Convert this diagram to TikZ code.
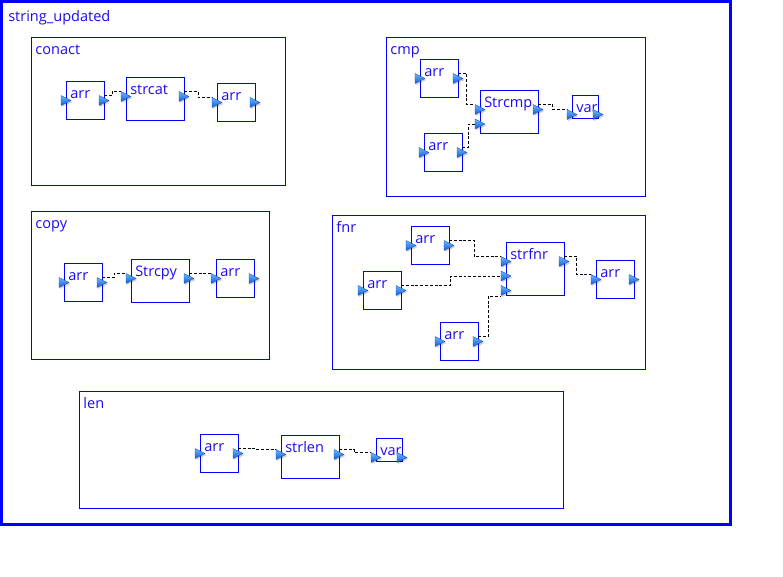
\documentclass[tikz,border=0pt]{standalone}
\usepackage{fontspec}
\setmainfont{Open Sans}
\usetikzlibrary{fit,calc}
\definecolor{boxblue}{RGB}{0,0,255}
\definecolor{txtblue}{RGB}{30,10,240}
\definecolor{portlight}{RGB}{105,185,255}
\definecolor{portdark}{RGB}{18,92,215}
\newcommand\blk[6]{%
  \coordinate (#1-nw) at (#2,#3);
  \coordinate (#1-se) at (#4,#5);
  \node[blockbox, fit=(#1-nw)(#1-se)] (#1) {};
  \node[lbl] (#1-t) at ([shift={(4,18)}]#1-nw) {#6};}
\newcommand\grp[6]{%
  \coordinate (#1-nw) at (#2,#3);
  \coordinate (#1-se) at (#4,#5);
  \node[blockbox, fit=(#1-nw)(#1-se)] (#1) {};
  \node[lbl] (#1-t) at ([shift={(3.7,16.8)}]#1-nw) {#6};}
\newcommand\prt[2]{%
  \fill[black,opacity=0.18] (#1-4,#2-3.5) -- (#1+6.5,#2+1.5) -- (#1-4,#2+6.5) -- cycle;
  \shade[top color=portlight, bottom color=portdark, draw=portdark!85!black, line width=0.2pt]
    (#1-5,#2-5) -- (#1+5,#2) -- (#1-5,#2+5) -- cycle;}
\begin{document}
\begin{tikzpicture}[x=0.75pt,y=-0.75pt,
  blockbox/.style={draw=boxblue,line width=0.65pt,inner sep=0pt,outer sep=0pt},
  lbl/.style={anchor=base west,inner sep=0pt,text=txtblue,font=\fontsize{10.9}{12}\selectfont},
  wire/.style={draw=black,line width=0.7pt,dash pattern=on 2.2pt off 1.4pt}]
\useasboundingbox (0,0) rectangle (783,577);
% outer frame
\coordinate (top-nw) at (1.5,1.5);
\coordinate (top-se) at (730.5,524.5);
\node[draw=boxblue,line width=2.3pt,inner sep=0pt,outer sep=0pt,fit=(top-nw)(top-se)] (top) {};
\node[lbl] (top-t) at (8,22) {string\_updated};
% groups
\grp{conact}{31.5}{37.5}{285.5}{185}{conact}
\grp{cmp}{386.5}{37.5}{645.5}{196.5}{cmp}
\grp{copy}{31.5}{211.5}{269.5}{359}{copy}
\grp{fnr}{332.5}{215.5}{645.5}{369}{fnr}
\grp{len}{79.5}{391.5}{563.5}{508}{len}
% conact blocks
\blk{ca1}{66}{81}{104}{119}{arr}
\blk{cs}{126}{77}{184}{120}{strcat}
\blk{ca2}{217}{83}{255}{121}{arr}
% cmp blocks
\blk{ma1}{420}{59}{458}{97}{arr}
\blk{ma2}{424}{133}{462}{171}{arr}
\blk{ms}{480}{90}{538}{133}{Strcmp}
\blk{mv}{572}{95}{598}{118}{var}
% copy blocks
\blk{pa1}{64}{263}{102}{301}{arr}
\blk{ps}{131}{259}{189}{302}{Strcpy}
\blk{pa2}{216}{259}{254}{297}{arr}
% fnr blocks
\blk{fa}{411}{226}{449}{264}{arr}
\blk{fb}{363}{271}{401}{309}{arr}
\blk{fc}{440}{322}{478}{360}{arr}
\blk{fs}{506}{242}{564}{295}{strfnr}
\blk{fd}{596}{260}{634}{298}{arr}
% len blocks
\blk{la}{200}{434}{238}{472}{arr}
\blk{ls}{281}{435}{339}{478}{strlen}
\blk{lv}{376}{438}{402}{461}{var}
% connection points
\coordinate (ca1o) at (104,95.5);  \coordinate (csi) at (121,91.5);
\coordinate (cso) at (184,91.5);   \coordinate (ca2i) at (212,97.5);
\coordinate (ma1o) at (458,73.5);  \coordinate (msi1) at (475,104.5);
\coordinate (ma2o) at (462,147.5); \coordinate (msi2) at (475,124);
\coordinate (mso) at (538,104.5);  \coordinate (mvi) at (567,109.5);
\coordinate (pa1o) at (102,277.5); \coordinate (psi) at (126,273.5);
\coordinate (pso) at (189,273.5);  \coordinate (pa2i) at (211,273.5);
\coordinate (fao) at (449,240.5);  \coordinate (fsi1) at (501,256.5);
\coordinate (fbo) at (401,285.5);  \coordinate (fsi2) at (501,276);
\coordinate (fco) at (478,336.5);  \coordinate (fsi3) at (501,296);
\coordinate (fso) at (564,256.5);  \coordinate (fdi) at (591,274.5);
\coordinate (lao) at (238,448.5);  \coordinate (lsi) at (276,449.5);
\coordinate (lso) at (339,449.5);  \coordinate (lvi) at (371,452.5);
% wires
\draw[wire] (ca1o) -- ++(8.3,0) |- (csi);
\draw[wire] (cso) -- ++(14,0) |- (ca2i);
\draw[wire] (ma1o) -- ++(8.7,0) |- (msi1);
\draw[wire] (ma2o) -- ++(6.3,0) |- (msi2);
\draw[wire] (mso) -- ++(14.7,0) |- (mvi);
\draw[wire] (pa1o) -- ++(12.3,0) |- (psi);
\draw[wire] (pso) -- (pa2i);
\draw[wire] (fao) -- ++(25,0) |- (fsi1);
\draw[wire] (fbo) -- ++(49.7,0) |- (fsi2);
\draw[wire] (fco) -- ++(10.3,0) |- (fsi3);
\draw[wire] (fso) -- ++(12.7,0) |- (fdi);
\draw[wire] (lao) -- ++(18.7,0) |- (lsi);
\draw[wire] (lso) -- ++(15,0) |- (lvi);
% ports
\prt{66}{100.5}\prt{104}{100.5}
\prt{126}{96.5}\prt{184}{96.5}
\prt{217}{102.5}\prt{255}{102.5}
\prt{420}{78.5}\prt{458}{78.5}
\prt{424}{152.5}\prt{462}{152.5}
\prt{480}{109.5}\prt{480}{124}\prt{538}{109.5}
\prt{572}{114.5}\prt{598}{114.5}
\prt{64}{282.5}\prt{102}{282.5}
\prt{131}{278.5}\prt{189}{278.5}
\prt{216}{278.5}\prt{254}{278.5}
\prt{411}{245.5}\prt{449}{245.5}
\prt{363}{290.5}\prt{401}{290.5}
\prt{440}{341.5}\prt{478}{341.5}
\prt{506}{261.5}\prt{506}{276}\prt{506}{290.5}\prt{564}{261.5}
\prt{596}{279.5}\prt{634}{279.5}
\prt{200}{453.5}\prt{238}{453.5}
\prt{281}{454.5}\prt{339}{454.5}
\prt{376}{457.5}\prt{402}{457.5}
\end{tikzpicture}
\end{document}
